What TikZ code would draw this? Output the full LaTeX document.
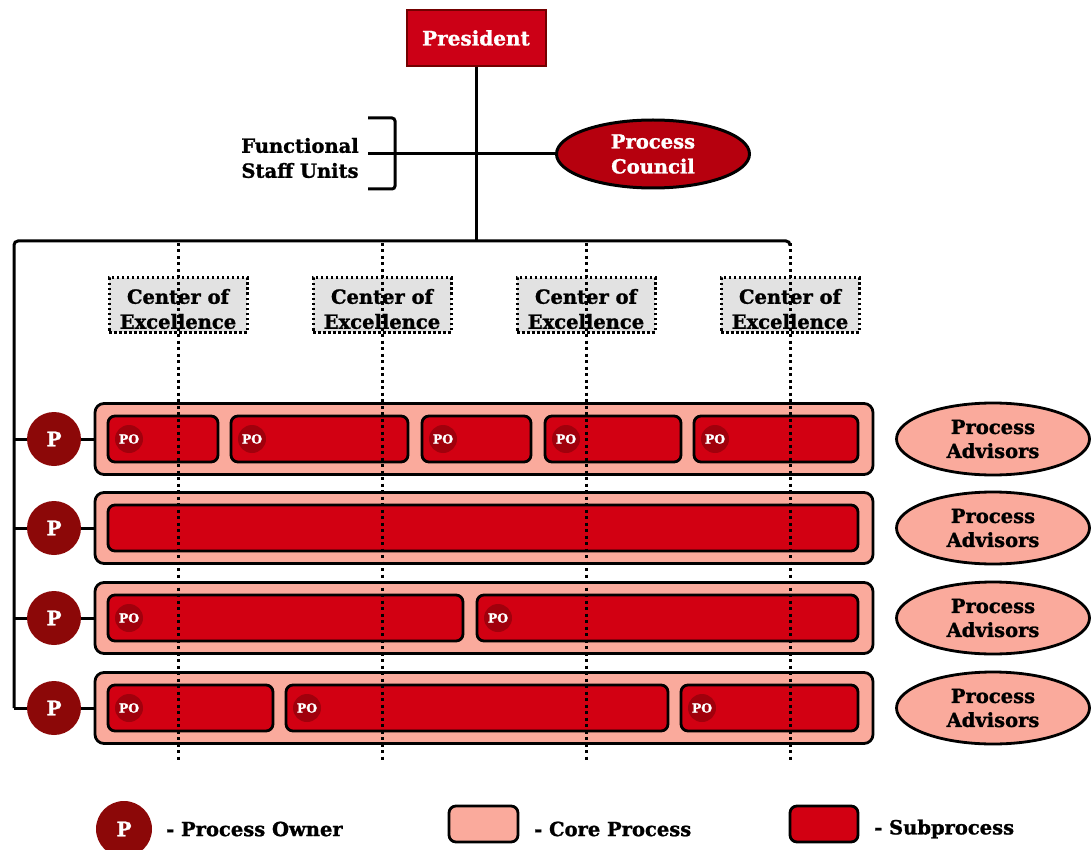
\documentclass[tikz,border=0pt]{standalone}
\usepackage{fontspec}
\setmainfont{DejaVu Serif}[BoldFeatures={FakeBold=1.2}]
\usetikzlibrary{shapes.geometric}
\definecolor{subred}{RGB}{210,0,18}
\definecolor{presred}{RGB}{204,0,22}
\definecolor{darkred}{RGB}{140,8,8}
\definecolor{pcred}{RGB}{182,0,14}
\definecolor{salmon}{RGB}{250,170,156}
\definecolor{coegray}{RGB}{226,226,226}
\definecolor{pored}{RGB}{160,0,12}
\tikzset{
  conn/.style={line width=3pt, black},
  dotline/.style={line width=3pt, black, dash pattern=on 3pt off 3.5pt},
  txt/.style={font=\bfseries\fontsize{19.5}{25}\selectfont, align=center, inner sep=0pt},
  pres/.style={rectangle, fill=presred, draw=red!45!black, line width=2pt, minimum width=139pt, minimum height=56pt, inner sep=0pt, text=white, font=\bfseries\fontsize{20}{24}\selectfont},
  council/.style={ellipse, fill=pcred, draw=black, line width=3pt, minimum width=193pt, minimum height=68pt, inner sep=0pt, text=white, align=center, font=\bfseries\fontsize{19.5}{25}\selectfont},
  coe/.style={rectangle, fill=coegray, draw=black, line width=3pt, dash pattern=on 2.5pt off 2.5pt, minimum width=138pt, minimum height=54pt, inner sep=0pt},
  core/.style={rectangle, rounded corners=9pt, fill=salmon, draw=black, line width=2.8pt, inner sep=0pt, minimum height=71pt},
  subp/.style={rectangle, rounded corners=7pt, fill=subred, draw=black, line width=2.8pt, inner sep=0pt, minimum height=46pt},
  pown/.style={circle, fill=darkred, minimum size=54pt, inner sep=0pt, text=white, font=\bfseries\fontsize{20}{24}\selectfont},
  po/.style={circle, fill=pored, minimum size=28pt, inner sep=0pt, text=white, font=\bfseries\fontsize{12.5}{14}\selectfont},
  adv/.style={ellipse, fill=salmon, draw=black, line width=2.8pt, minimum width=193pt, minimum height=72pt, inner sep=0pt, align=center, font=\bfseries\fontsize{19.5}{24}\selectfont},
  legtxt/.style={anchor=west, inner sep=0pt, font=\bfseries\fontsize{19.5}{24}\selectfont},
}
\newcommand\SubBox[5]{%
  \pgfmathsetmacro\subcx{(#2+#3)/2}%
  \pgfmathsetmacro\subw{#3-#2}%
  \node[subp, minimum width=\subw pt] (#1) at (\subcx,#4) {};
  \ifx\relax#5\relax\else
    \pgfmathsetmacro\subpx{#2+21}%
    \node[po] (#1po) at (\subpx,#4) {PO};
  \fi}
\begin{document}
\begin{tikzpicture}[x=1pt,y=-1pt]
\useasboundingbox (0,0) rectangle (1092,850);

% top part
\node[pres] (pres) at (476,38) {President};
\node[council] (pc) at (653,154) {Process\\Council};
\node[txt] (fsu) at (300,158) {Functional\\Staff Units};
\coordinate (brT) at (368,118);
\coordinate (brB) at (368,189);
\coordinate (brM) at (368,154);
\coordinate (bus) at (476,241);
\coordinate (busL) at (14,241);
\draw[conn, rounded corners=3pt] (brT) -- (395,118) -- (395,189) -- (brB);
\draw[conn] (brM) -- (pc.west);
\draw[conn] (pres.south) -- (bus);

% core process rows
\foreach \i/\y in {1/439, 2/528, 3/618, 4/708}{
  \node[core, minimum width=778pt] (core\i) at (484,\y) {};
  \node[pown] (p\i) at (54,\y) {P};
  \node[adv] (adv\i) at (993,\y) {Process\\Advisors};
  \coordinate (bl\i) at (14,\y);
  \draw[conn] (bl\i) -- (p\i.west);
  \draw[conn] (p\i.east) -- (core\i.west);
}
\draw[conn, rounded corners=4pt] (bl4) -- (busL) -- (790,241) -- (790,246);

% subprocesses
\SubBox{s11}{108}{218}{439}{y}
\SubBox{s12}{231}{408}{439}{y}
\SubBox{s13}{422}{531}{439}{y}
\SubBox{s14}{545}{681}{439}{y}
\SubBox{s15}{694}{858}{439}{y}
\SubBox{s21}{108}{858}{528}{}
\SubBox{s31}{108}{463}{618}{y}
\SubBox{s32}{477}{858}{618}{y}
\SubBox{s41}{108}{273}{708}{y}
\SubBox{s42}{286}{668}{708}{y}
\SubBox{s43}{681}{858}{708}{y}

% centers of excellence and dotted lines
\foreach \j/\x in {1/178, 2/382, 3/586, 4/790}{
  \node[coe] (coe\j) at (\x,305) {};
  \node[txt] (coet\j) at (\x,309) {Center of\\Excellence};
  \coordinate (dt\j) at (\x,243);
  \coordinate (db\j) at (\x,762);
  \draw[dotline] (dt\j) -- (db\j);
}

% legend
\node[pown, minimum size=56pt] (lp) at (124,829) {P};
\node[legtxt] (lpt) at (166,829) {- Process Owner};
\node[core, minimum width=69pt, minimum height=36pt, rounded corners=7pt] (lc) at (483.5,824) {};
\node[legtxt] (lct) at (534,829) {- Core Process};
\node[subp, minimum width=68pt, minimum height=36pt] (ls) at (824,824) {};
\node[legtxt] (lst) at (874,829) {- Subprocess};
\end{tikzpicture}
\end{document}
